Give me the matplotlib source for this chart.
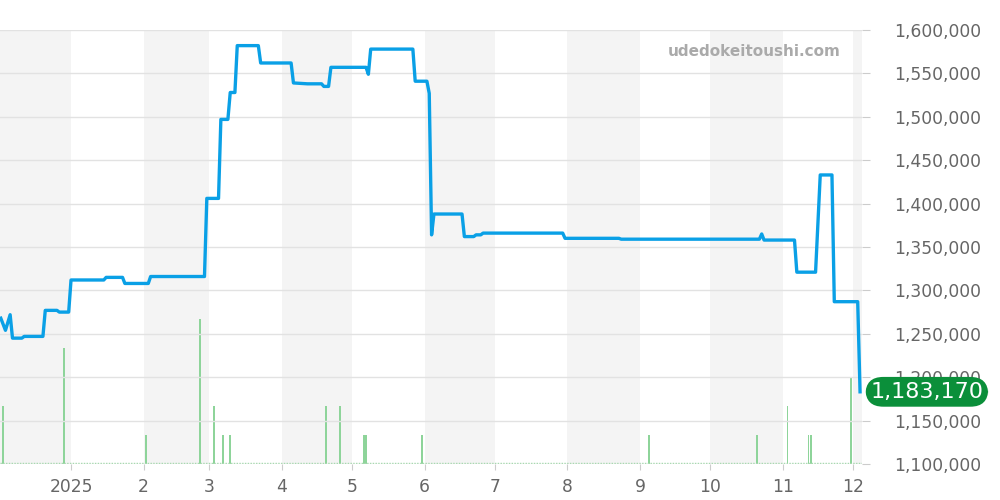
import matplotlib
import matplotlib.pyplot as plt
import numpy as np
import pandas as pd

matplotlib.use('Agg')

# price history (date, yen)
price_dates = [
    "2024-12-02", "2024-12-04", "2024-12-06", "2024-12-07", "2024-12-11", "2024-12-12",
    "2024-12-20", "2024-12-21", "2024-12-26", "2024-12-27", "2024-12-31", "2025-01-01",
    "2025-01-15", "2025-01-16", "2025-01-23", "2025-01-24", "2025-02-03", "2025-02-04",
    "2025-02-27", "2025-02-28", "2025-03-05", "2025-03-06", "2025-03-09", "2025-03-10",
    "2025-03-12", "2025-03-13", "2025-03-22", "2025-03-23", "2025-04-05", "2025-04-06",
    "2025-04-12", "2025-04-18", "2025-04-19", "2025-04-21", "2025-04-22", "2025-05-07",
    "2025-05-08", "2025-05-09", "2025-05-27", "2025-05-28", "2025-06-02", "2025-06-03",
    "2025-06-04", "2025-06-05", "2025-06-17", "2025-06-18", "2025-06-22", "2025-06-23",
    "2025-06-25", "2025-06-26", "2025-07-30", "2025-07-31", "2025-08-23", "2025-08-24",
    "2025-10-22", "2025-10-23", "2025-10-24", "2025-11-06", "2025-11-07", "2025-11-15",
    "2025-11-17", "2025-11-22", "2025-11-23", "2025-12-03", "2025-12-04",
]
price_values = [
    1268000, 1254000, 1272000, 1245000, 1245000, 1247000,
    1247000, 1277000, 1277000, 1275000, 1275000, 1312000,
    1312000, 1315000, 1315000, 1308000, 1308000, 1316000,
    1316000, 1406000, 1406000, 1497000, 1497000, 1528000,
    1528000, 1582000, 1582000, 1562000, 1562000, 1539000,
    1538000, 1538000, 1535000, 1535000, 1557000, 1557000,
    1549000, 1578000, 1578000, 1541000, 1541000, 1527000,
    1364000, 1388000, 1388000, 1362000, 1362000, 1364000,
    1364000, 1366000, 1366000, 1360000, 1360000, 1359000,
    1359000, 1365000, 1358000, 1358000, 1321000, 1321000,
    1433000, 1433000, 1287000, 1287000, 1183170,
]

# trade counts
volume_dates = [
    "2024-12-03", "2024-12-29", "2025-02-02", "2025-02-25", "2025-03-03", "2025-03-07",
    "2025-03-10", "2025-04-20", "2025-04-26", "2025-05-06", "2025-05-07", "2025-05-31",
    "2025-09-05", "2025-10-21", "2025-11-03", "2025-11-12", "2025-11-13", "2025-11-30",
]
volume_counts = [2, 4, 1, 5, 2, 1, 1, 2, 2, 1, 1, 1, 1, 1, 2, 1, 1, 3]

month_ticks = ["2025-01-01", "2025-02-01", "2025-03-01", "2025-04-01", "2025-05-01", "2025-06-01",
               "2025-07-01", "2025-08-01", "2025-09-01", "2025-10-01", "2025-11-01", "2025-12-01"]
month_labels = ["2025", "2", "3", "4", "5", "6", "7", "8", "9", "10", "11", "12"]

last_price = 1183170

px = pd.to_datetime(price_dates)
vx = pd.to_datetime(volume_dates)
x0 = pd.Timestamp("2024-12-01 16:00")
x1 = pd.Timestamp("2025-12-04 20:00")

fig = plt.figure(figsize=(10, 5), dpi=100)
ax = fig.add_axes([0.0, 0.072, 0.862, 0.868])
axv = ax.twinx()
ax.set_zorder(axv.get_zorder() + 1)
ax.patch.set_visible(False)

# shaded alternate months
band_starts = pd.date_range("2024-12-01", "2025-12-01", freq="2MS")
for s in band_starts:
    e = s + pd.offsets.MonthBegin(1)
    axv.axvspan(s, e, color="#f4f4f4", lw=0, zorder=0)

axv.bar(vx, volume_counts, width=0.8, color="#8ed49a", zorder=2)
axv.plot([x0, x1], [0.05, 0.05], color="#9ad7a4", lw=1, ls=(0, (1, 1)), zorder=2)
axv.set_ylim(0, 15)
axv.set_yticks([])
axv.set_xlim(x0, x1)

ax.plot(px, price_values, color="#0aa0e6", lw=2.4, zorder=3)
ax.set_xlim(x0, x1)
ax.set_ylim(1100000, 1600000)

ax.yaxis.tick_right()
ax.set_yticks(np.arange(1100000, 1600001, 50000))
ax.yaxis.set_major_formatter(matplotlib.ticker.FuncFormatter(lambda v, p: f"{int(v):,}"))
ax.tick_params(axis="y", colors="#cccccc", labelcolor="#666666", labelsize=12.3, length=6, pad=17)
ax.grid(axis="y", color="#e2e2e2", lw=1)
ax.set_axisbelow(True)

ax.set_xticks(pd.to_datetime(month_ticks))
ax.set_xticklabels(month_labels)
ax.tick_params(axis="x", colors="#cccccc", labelcolor="#666666", labelsize=12.3, length=4, pad=6)

for a in (ax, axv):
    for sp in a.spines.values():
        sp.set_visible(False)

ax.text(0.975, 0.95, "udedokeitoushi.com", transform=ax.transAxes, ha="right", va="center",
        fontsize=11, fontweight="bold", color="#aaaaaa")

ax.annotate(f"{last_price:,}", xy=(1.0, last_price), xycoords=("axes fraction", "data"),
            xytext=(6, 0), textcoords="offset points", ha="left", va="center",
            fontsize=16, color="white", annotation_clip=False, zorder=10,
            bbox=dict(boxstyle="round,pad=0.22,rounding_size=0.8", fc="#0b8f3a", ec="none"))

fig.savefig("out.png", dpi=100)
